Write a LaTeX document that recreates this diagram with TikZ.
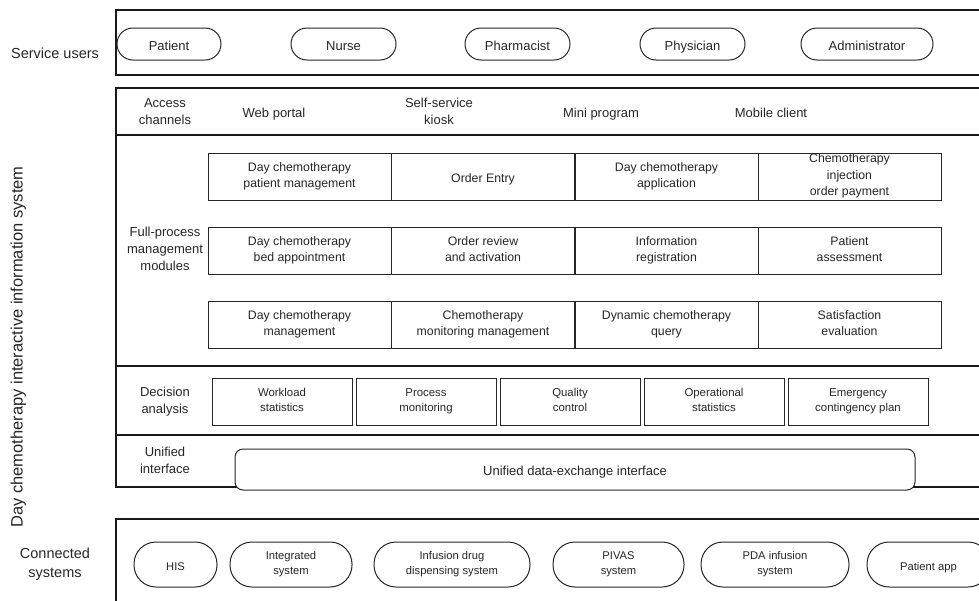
\documentclass[tikz,border=0pt]{standalone}
\usepackage{fontspec}
\setmainfont{Liberation Sans}
\usepackage{tikz}
\newcommand{\boxstrut}{\rule[-0.2\baselineskip]{0pt}{1.15\baselineskip}}

\begin{document}
\begin{tikzpicture}[x=1pt, y=-1pt,
                   every node/.style={text=black!85, align=center, inner sep=0pt,
                                      execute at begin node=\boxstrut, execute at end node=\boxstrut},
                   frame/.style={draw=black!90, line width=1.3pt},
                   lbl/.style={font=\fontsize{13}{17}\selectfont},
                   side/.style={font=\fontsize{14.5}{19}\selectfont},
                   user/.style={draw=black!85, line width=1pt, rounded corners=16pt, minimum height=32pt, font=\fontsize{13}{16}\selectfont},
                   system/.style={draw=black!85, fill=white, line width=1pt, rounded corners=22pt, minimum height=45pt, font=\fontsize{11.2}{15}\selectfont},
                   cell/.style={draw=black!85, line width=1pt, minimum width=183pt, minimum height=47pt, font=\fontsize{12.3}{16.5}\selectfont},
                   stat/.style={draw=black!85, line width=1pt, minimum width=140pt, minimum height=47pt, font=\fontsize{11.4}{15}\selectfont}]
\useasboundingbox (0,0) rectangle (979,600);
\clip (0,0) rectangle (979,600);

\draw[frame] (116,10) rectangle (1000,75);
\draw[frame] (116,88) rectangle (1000,487);
\draw[frame] (116,135) -- (1000,135);
\draw[frame] (116,366) -- (1000,366);
\draw[frame] (116,435) -- (1000,435);
\draw[frame] (116,519) rectangle (1000,640);

\node[side] (users) at (55,51) {Service users};
\node[side] (connected) at (55,565) {Connected\\systems};
\node[rotate=90, font=\fontsize{16.5}{20}\selectfont] (system) at (15,347) {Day chemotherapy interactive information system};

\node[user, minimum width=104pt] (patient) at (169,44) {Patient};
\node[user, minimum width=105pt] (nurse) at (343.5,44) {Nurse};
\node[user, minimum width=105pt] (pharmacist) at (517.5,44) {Pharmacist};
\node[user, minimum width=105pt] (physician) at (692.5,44) {Physician};
\node[user, minimum width=132pt] (admin) at (867,44) {Administrator};

\node[lbl] (access) at (165,113) {Access\\channels};
\node[lbl] (web) at (274,111) {Web portal};
\node[lbl] (kiosk) at (439,113) {Self-service\\kiosk};
\node[lbl] (mini) at (601,111) {Mini program};
\node[lbl] (mobile) at (771,111) {Mobile client};

\node[lbl] (modules) at (165,250) {Full-process\\management\\modules};
\node[cell] (m11) at (299.5,176.5) {Day chemotherapy\\patient management};
\node[cell] (m12) at (483,176.5) {Order Entry};
\node[cell] (m13) at (666.5,176.5) {Day chemotherapy\\application};
\node[cell] (m14) at (849.5,176.5) {Chemotherapy\\injection\\order payment};
\node[cell] (m21) at (299.5,250.5) {Day chemotherapy\\bed appointment};
\node[cell] (m22) at (483,250.5) {Order review\\and activation};
\node[cell] (m23) at (666.5,250.5) {Information\\registration};
\node[cell] (m24) at (849.5,250.5) {Patient\\assessment};
\node[cell] (m31) at (299.5,324.5) {Day chemotherapy\\management};
\node[cell] (m32) at (483,324.5) {Chemotherapy\\monitoring management};
\node[cell] (m33) at (666.5,324.5) {Dynamic chemotherapy\\query};
\node[cell] (m34) at (849.5,324.5) {Satisfaction\\evaluation};

\node[lbl] (decision) at (165,402) {Decision\\analysis};
\node[stat] (workload) at (282,401.5) {Workload\\statistics};
\node[stat] (process) at (426,401.5) {Process\\monitoring};
\node[stat] (quality) at (570,401.5) {Quality\\control};
\node[stat] (operational) at (714,401.5) {Operational\\statistics};
\node[stat] (emergency) at (858,401.5) {Emergency\\contingency plan};

\node[lbl] (unified) at (165,462) {Unified\\interface};
\node[draw=black!85, fill=white, line width=1pt, rounded corners=8pt, minimum width=680pt, minimum height=41pt, lbl] (exchange) at (575,469.5) {Unified data-exchange interface};

\node[system, minimum width=83pt] (his) at (175.5,564.5) {HIS};
\node[system, minimum width=122pt] (integrated) at (291,564.5) {Integrated\\system};
\node[system, minimum width=156pt] (infusion) at (452,564.5) {Infusion drug\\dispensing system};
\node[system, minimum width=131pt] (pivas) at (618.5,564.5) {PIVAS\\system};
\node[system, minimum width=148pt] (pda) at (775,564.5) {PDA infusion\\system};
\node[system, minimum width=123pt] (app) at (928.5,564.5) {Patient app};
\end{tikzpicture}
\end{document}
